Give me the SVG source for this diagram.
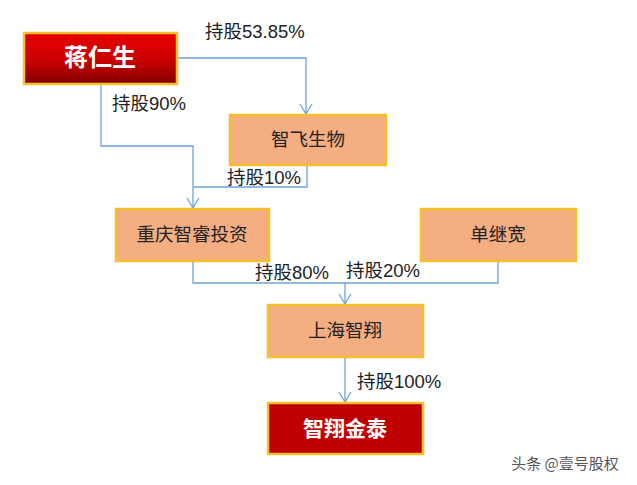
<svg xmlns="http://www.w3.org/2000/svg" width="637" height="485" viewBox="0 0 637 485">
<style>
.box{fill:#f4ae82;stroke:#f7c02a;stroke-width:2.5}
.red{stroke:#f7c02a;stroke-width:2.5}
.t{font-family:"Liberation Sans","Noto Sans CJK SC",sans-serif;font-size:18.5px;fill:#222;text-anchor:middle}
.bt{font-family:"Liberation Sans","Noto Sans CJK SC",sans-serif;font-weight:bold;fill:#fff;text-anchor:middle}
.lb{font-family:"Liberation Sans","Noto Sans CJK SC",sans-serif;font-size:18.5px;fill:#222}
.c{fill:none;stroke:#6fa3da;stroke-width:1.3}
</style>
<defs>
<linearGradient id="rg" x1="0" y1="0" x2="0" y2="1">
<stop offset="0" stop-color="#e80000"/>
<stop offset="0.55" stop-color="#c90000"/>
<stop offset="1" stop-color="#7e0000"/>
</linearGradient>
<marker id="a" markerWidth="12" markerHeight="14" refX="11" refY="7" orient="auto" markerUnits="userSpaceOnUse" viewBox="0 0 12 14">
<path d="M1,1 L11,7 L1,13" fill="none" stroke="#6fa3da" stroke-width="1.3"/>
</marker>
</defs>
<rect width="637" height="485" fill="#fff"/>
<g id="connectors">
<path class="c" d="M177,58 H306 V114" marker-end="url(#a)"/>
<path class="c" d="M101,84 V146 H193 V208" marker-end="url(#a)"/>
<path class="c" d="M307,165 V187 H193"/>
<path class="c" d="M193,261 V283 H498 V261"/>
<path class="c" d="M345,283 V304" marker-end="url(#a)"/>
<path class="c" d="M345,357 V402" marker-end="url(#a)"/>
<text class="lb" x="205" y="38">持股53.85%</text>
<text class="lb" x="112" y="110">持股90%</text>
<text class="lb" x="227" y="184">持股10%</text>
<text class="lb" x="255" y="279">持股80%</text>
<text class="lb" x="346" y="277">持股20%</text>
<text class="lb" x="357" y="388">持股100%</text>
</g>
<g id="n1"><rect class="red" x="24" y="33" width="153" height="51" fill="url(#rg)"/><text class="bt" x="100" y="66" font-size="24">蒋仁生</text></g>
<g id="n2"><rect class="box" x="230" y="115" width="156" height="50"/><text class="t" x="308" y="146">智飞生物</text></g>
<g id="n3"><rect class="box" x="116" y="209" width="153" height="52"/><text class="t" x="192" y="241">重庆智睿投资</text></g>
<g id="n4"><rect class="box" x="421" y="209" width="155" height="52"/><text class="t" x="498" y="241">单继宽</text></g>
<g id="n5"><rect class="box" x="268" y="305" width="155" height="52"/><text class="t" x="345" y="337">上海智翔</text></g>
<g id="n6"><rect class="red" x="268" y="403" width="155" height="51" fill="#c00000"/><text class="bt" x="345" y="436" font-size="21">智翔金泰</text></g>
<text x="565" y="469" font-family="Noto Sans CJK SC,sans-serif" font-size="15" fill="#555" text-anchor="middle">头条 @壹号股权</text>
</svg>
